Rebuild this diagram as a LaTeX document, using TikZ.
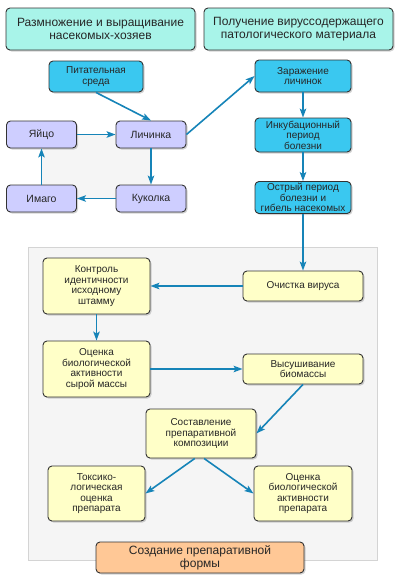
\documentclass[tikz,border=0pt]{standalone}
\usepackage{fontspec}
\setmainfont{Liberation Sans}
\usetikzlibrary{arrows.meta,shadows,backgrounds}
\definecolor{headfill}{RGB}{168,244,233}
\definecolor{bluefill}{RGB}{58,200,240}
\definecolor{lilacfill}{RGB}{206,206,255}
\definecolor{yellowfill}{RGB}{255,255,200}
\definecolor{orangefill}{RGB}{255,200,150}
\definecolor{flowblue}{RGB}{22,132,184}
\definecolor{panelfill}{RGB}{245,245,245}
\definecolor{panelline}{RGB}{212,212,212}
\begin{document}
\begin{tikzpicture}[x=1pt,y=-1pt,
		box/.style={draw=black!80,line width=0.9pt,rounded corners=4pt,align=center,
			text=black!85,inner sep=1pt,font=\fontsize{10}{10.5}\selectfont,
			drop shadow={shadow xshift=1.5pt,shadow yshift=-1.5pt,opacity=0.35}},
		head/.style={box,fill=headfill,font=\fontsize{12}{13}\selectfont,minimum width=189pt,minimum height=42pt},
		bluebox/.style={box,fill=bluefill,minimum width=96pt},
		lilac/.style={box,fill=lilacfill,minimum width=70pt,minimum height=27pt,font=\fontsize{10.5}{11}\selectfont},
		yellow/.style={box,fill=yellowfill},
		flow/.style={draw=flowblue,line width=1.6pt,-{Stealth[length=9pt,width=6.5pt,inset=2pt]}}]
		\useasboundingbox (0,0) rectangle (400,582);

		% panel behind the lower part
		\draw[panelline,fill=panelfill,line width=0.8pt] (28,247) rectangle (377,560);

		% headings
		\node[head] (breeding) at (100.5,29) {Размножение и выращивание\\насекомых-хозяев};
		\node[head] (obtaining) at (298.5,29) {Получение вируссодержащего\\патологического материала};

		% life cycle
		\node[bluebox,minimum width=94pt,minimum height=31pt] (medium) at (96,76.5) {Питательная\\среда};
		\node[lilac] (egg) at (41.5,134.5) {Яйцо};
		\node[lilac] (larva) at (151,134.5) {Личинка};
		\node[lilac] (imago) at (41.5,198.5) {Имаго};
		\node[lilac] (pupa) at (151,198.5) {Куколка};

		% infection
		\node[bluebox,minimum height=32pt] (infect) at (303,76) {Заражение\\личинок};
		\node[bluebox,minimum height=34pt] (incub) at (303,135) {Инкубационный\\период\\болезни};
		\node[bluebox,minimum height=32pt] (acute) at (303,197.5) {Острый период\\болезни и\\гибель насекомых};

		% preparation
		\node[yellow,minimum width=120pt,minimum height=30pt] (purify) at (303,286) {Очистка вируса};
		\node[yellow,minimum width=107pt,minimum height=56pt] (control) at (96.5,286) {Контроль\\идентичности\\исходному\\штамму};
		\node[yellow,minimum width=107pt,minimum height=56pt] (rawtest) at (96.5,369) {Оценка\\биологической\\активности\\сырой массы};
		\node[yellow,minimum width=120pt,minimum height=30pt] (drying) at (303,369) {Высушивание\\биомассы};
		\node[yellow,minimum width=110pt,minimum height=49pt] (compose) at (201,433.5) {Составление\\препаративной\\композиции};
		\node[yellow,minimum width=97pt,minimum height=55pt] (toxic) at (96.5,493.5) {Токсико-\\логическая\\оценка\\препарата};
		\node[yellow,minimum width=98pt,minimum height=55pt] (prodtest) at (303,493.5) {Оценка\\биологической\\активности\\препарата};
		\node[box,fill=orangefill,font=\fontsize{12}{13}\selectfont,minimum width=208pt,minimum height=31pt] (form) at (200,557.5) {Создание препаративной\\формы};

		\begin{scope}[on background layer]
			\fill[panelfill] (egg.center) rectangle (pupa.center);
		\end{scope}

		\draw[flow] (medium.south) -- (larva.north);
		\draw[flow] (egg) -- (larva);
		\draw[flow] (larva) -- (pupa);
		\draw[flow] (pupa) -- (imago);
		\draw[flow] (imago) -- (egg);
		\draw[flow] (larva.east) -- (infect.west);

		\draw[flow] (infect) -- (incub);
		\draw[flow] (incub) -- (acute);
		\draw[flow] (acute) -- (purify);

		\draw[flow] (purify) -- (control);
		\draw[flow] (control) -- (rawtest);
		\draw[flow] (rawtest) -- (drying);
		\draw[flow] (drying.south) -- (compose.east);
		\draw[flow] (compose.-104) -- (toxic.east);
		\draw[flow] (compose.-83) -- (prodtest.west);
	\end{tikzpicture}
\end{document}
